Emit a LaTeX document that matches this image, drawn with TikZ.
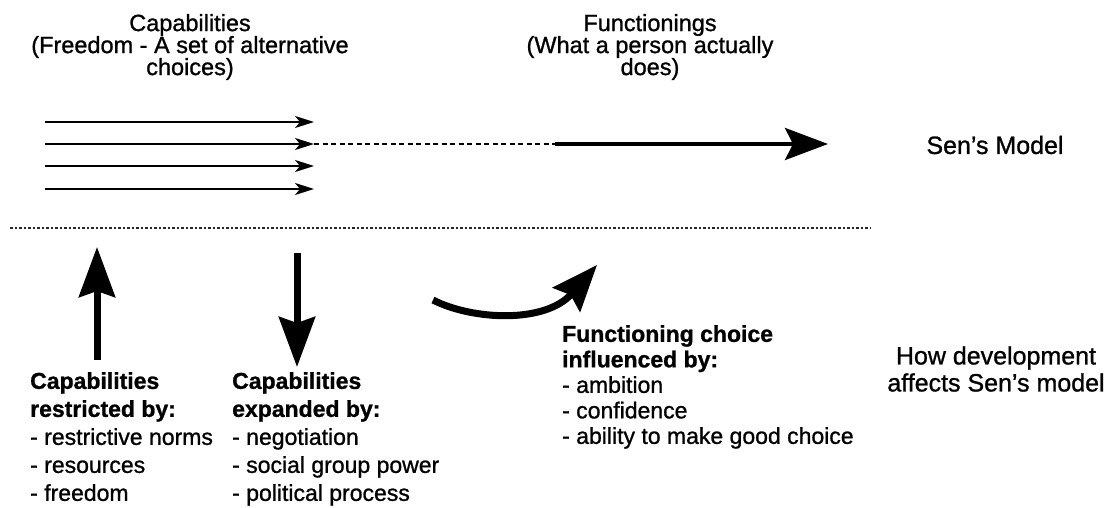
\documentclass[tikz,border=0pt]{standalone}
\usepackage{fontspec}
\setmainfont{Liberation Sans}[FakeBold=1]
\usetikzlibrary{arrows.meta}
\begin{document}
\begin{tikzpicture}[x=1pt,y=-1pt,
  heading/.style={align=center,inner sep=0pt,font=\fontsize{23.5}{22}\selectfont},
  sidelabel/.style={align=center,inner sep=0pt,font=\fontsize{25}{27}\selectfont},
  factors/.style={align=left,anchor=north west,inner sep=0pt,font=\fontsize{23}{28}\selectfont},
  choice/.style={line width=2pt,-{Stealth[length=19pt,width=12pt,inset=5pt]}},
  bigarrow/.style={line width=7pt,-{Stealth[length=50pt,width=36pt,inset=6pt]}}]
\useasboundingbox (0,0) rectangle (1113,508);

% headings of Sen's model
\node[heading] (cap) at (190,47) {Capabilities\\(Freedom - A set of alternative\\choices)};
\node[heading] (fun) at (650,47) {Functionings\\(What a person actually\\does)};
\node[sidelabel] (sen) at (995,145) {Sen's Model};
\node[sidelabel] (dev) at (996,369) {How development\\affects Sen's model};

% the set of alternative choices
\foreach \i/\y in {1/122,2/144,3/166,4/189}{
  \coordinate (s\i) at (45,\y);
  \coordinate (e\i) at (314,\y);
  \draw[choice] (s\i) -- (e\i);
}
\coordinate (m) at (555,144);
\coordinate (f) at (828,144);
\draw[line width=2pt,dash pattern=on 5pt off 3.5pt] (e2) -- (m);
\draw[line width=4pt,-{Stealth[length=43pt,width=32pt,inset=8pt]}] (m) -- (f);

% separator
\coordinate (l1) at (10,228);
\coordinate (l2) at (870,228);
\draw[line width=1.5pt,black!85,dash pattern=on 2.5pt off 2pt] (l1) -- (l2);

% influences of development
\node[factors] (res) at (30,372) {\textbf{Capabilities}\\\textbf{restricted by:}\\- restrictive norms\\- resources\\- freedom};
\node[factors] (exp) at (232,372) {\textbf{Capabilities}\\\textbf{expanded by:}\\- negotiation\\- social group power\\- political process};
\node[factors,font=\fontsize{23}{25.5}\selectfont] (inf) at (562,325) {\textbf{Functioning choice}\\\textbf{influenced by:}\\- ambition\\- confidence\\- ability to make good choice};

\coordinate (u0) at (97,360);
\coordinate (u1) at (97,247);
\draw[bigarrow] (u0) -- (u1);
\coordinate (d0) at (297,253);
\coordinate (d1) at (297,367);
\draw[bigarrow] (d0) -- (d1);
\coordinate (c0) at (433,300);
\coordinate (c1) at (597,265);
\draw[line width=7pt,-{Stealth[length=46pt,width=36pt,inset=6pt]}]
  (c0) .. controls (472,320) and (545,324) .. (c1);
\end{tikzpicture}
\end{document}
